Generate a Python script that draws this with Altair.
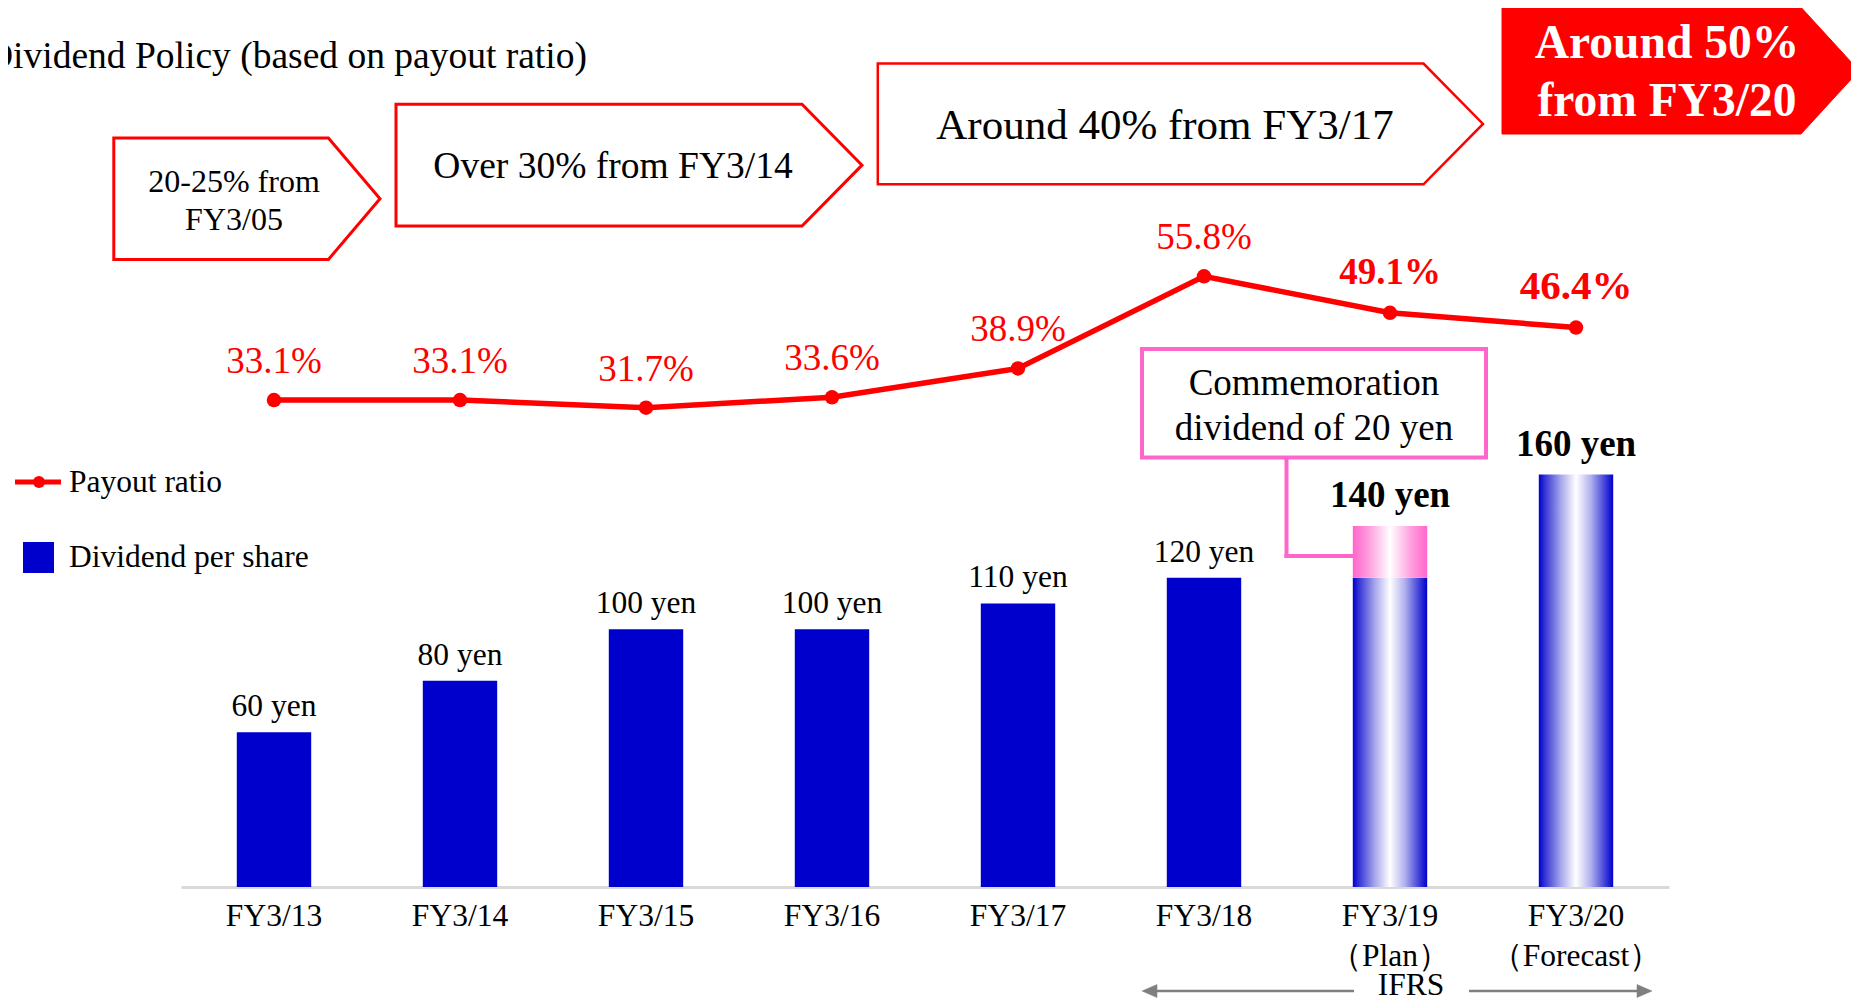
import altair as alt
import pandas as pd

# ---------------- data ----------------
years = ["FY3/13", "FY3/14", "FY3/15", "FY3/16", "FY3/17", "FY3/18",
         "FY3/19 （Plan）", "FY3/20 （Forecast）"]
ordinary_dividend = [60, 80, 100, 100, 110, 120, 120, 160]
commemorative_dividend = [0, 0, 0, 0, 0, 0, 20, 0]
payout_ratio = [33.1, 33.1, 31.7, 33.6, 38.9, 55.8, 49.1, 46.4]
is_projection = [False, False, False, False, False, False, True, True]

policy_title = "Dividend Policy (based on payout ratio)"
policy_step1 = ["20-25% from", "FY3/05"]
policy_step2 = ["Over 30% from FY3/14"]
policy_step3 = ["Around 40% from FY3/17"]
policy_step4 = ["Around 50%", "from FY3/20"]
callout_lines = ["Commemoration", "dividend of 20 yen"]
legend_labels = ["Payout ratio", "Dividend per share"]
ifrs_label = "IFRS"

total_dividend = [o + c for o, c in zip(ordinary_dividend, commemorative_dividend)]
df = pd.DataFrame({
    "idx": list(range(len(years))),
    "year": years,
    "ordinary": ordinary_dividend,
    "comm": commemorative_dividend,
    "total": total_dividend,
    "ratio": payout_ratio,
    "proj": is_projection,
    "dlabel": [f"{t} yen" for t in total_dividend],
    "rlabel": [f"{r:.1f}%" for r in payout_ratio],
})

# ---------------- style ----------------
FONT = "Liberation Serif"
RED = "#FF0000"
BLUE = "#0000CC"
PINK = "#FF66CC"
GRAY = "#7F7F7F"
OX, OY = 181, 8  # page position of plot origin


def ax(v):
    return v - OX


def ay(v):
    return v - OY


base = alt.Chart(df)
ONE = alt.Data(values=[{"k": 0}])

X = alt.X(
    "year:N", sort=years,
    scale=alt.Scale(paddingInner=0.6, paddingOuter=0.3),
    axis=alt.Axis(title=None, labelExpr="split(datum.label, ' ')", labelAngle=0,
                  labelFont=FONT, labelFontSize=31.5, labelColor="black",
                  labelPadding=13.5, labelLineHeight=40, ticks=False, tickSize=0,
                  domain=True, domainColor="#D9D9D9", domainWidth=3, grid=False,
                  labelOverlap=False, labelLimit=0),
)

YB = alt.Scale(domain=[0, 341], nice=False, zero=False)
YR = alt.Scale(domain=[-56.26, 105.03], nice=False, zero=False)

blue_grad = alt.LinearGradient(
    gradient="linear", x1=0, x2=1, y1=0, y2=0,
    stops=[alt.GradientStop(color="#0000CC", offset=0),
           alt.GradientStop(color="#3333D6", offset=0.08),
           alt.GradientStop(color="#A8A8EC", offset=0.3),
           alt.GradientStop(color="#FFFFFF", offset=0.5),
           alt.GradientStop(color="#B0B0EE", offset=0.7),
           alt.GradientStop(color="#3A3AD8", offset=0.9),
           alt.GradientStop(color="#0000CC", offset=1)])
pink_grad = alt.LinearGradient(
    gradient="linear", x1=0, x2=1, y1=0, y2=0,
    stops=[alt.GradientStop(color="#FF66CC", offset=0),
           alt.GradientStop(color="#FF99DD", offset=0.2),
           alt.GradientStop(color="#FFFFFF", offset=0.5),
           alt.GradientStop(color="#FF99DD", offset=0.8),
           alt.GradientStop(color="#FF66CC", offset=1)])

# ---------------- bars ----------------
bars_solid = base.transform_filter("!datum.proj").mark_bar(color=BLUE).encode(
    x=X, y=alt.Y("ordinary:Q", scale=YB, axis=None))
bars_grad = base.transform_filter("datum.proj").mark_bar(fill=blue_grad).encode(
    x=X, y=alt.Y("ordinary:Q", scale=YB, axis=None))
bars_comm = base.transform_filter("datum.comm > 0").mark_bar(fill=pink_grad).encode(
    x=X, y=alt.Y("ordinary:Q", scale=YB, axis=None), y2="total:Q")
yen_norm = base.transform_filter("!datum.proj").mark_text(
    font=FONT, fontSize=31.5, color="black", baseline="middle", dy=-25).encode(
    x=X, y=alt.Y("total:Q", scale=YB, axis=None), text="dlabel:N")
yen_bold = base.transform_filter("datum.proj").mark_text(
    font=FONT, fontSize=37, fontWeight="bold", color="black", baseline="middle", dy=-30).encode(
    x=X, y=alt.Y("total:Q", scale=YB, axis=None), text="dlabel:N")
g_bars = alt.layer(bars_solid, bars_grad, bars_comm, yen_norm, yen_bold)

# ---------------- payout line ----------------
line = base.mark_line(color=RED, strokeWidth=5.5).encode(
    x=X, y=alt.Y("ratio:Q", scale=YR, axis=None))
pts = base.mark_circle(color=RED, size=210, opacity=1).encode(
    x=X, y=alt.Y("ratio:Q", scale=YR, axis=None))
pct_norm = base.transform_filter("!datum.proj").mark_text(
    font=FONT, fontSize=37, color=RED, baseline="middle", dy=-38).encode(
    x=X, y=alt.Y("ratio:Q", scale=YR, axis=None), text="rlabel:N")
pct_b1 = base.transform_filter("datum.idx == 6").mark_text(
    font=FONT, fontSize=37, fontWeight="bold", color=RED, baseline="middle", dy=-40).encode(
    x=X, y=alt.Y("ratio:Q", scale=YR, axis=None), text="rlabel:N")
pct_b2 = base.transform_filter("datum.idx == 7").mark_text(
    font=FONT, fontSize=41, fontWeight="bold", color=RED, baseline="middle", dy=-41).encode(
    x=X, y=alt.Y("ratio:Q", scale=YR, axis=None), text="rlabel:N")
g_line = alt.layer(line, pts, pct_norm, pct_b1, pct_b2)


# ---------------- annotation helpers ----------------
def text_at(s, x, y, size, color="black", weight="normal", align="center"):
    return alt.Chart(ONE).mark_text(
        text=s, font=FONT, fontSize=size, fontWeight=weight, color=color,
        align=align, baseline="middle").encode(x=alt.value(ax(x)), y=alt.value(ay(y)))


def rule(x1, y1, x2, y2, color, width, cap="butt"):
    return alt.Chart(ONE).mark_rule(color=color, strokeWidth=width, strokeCap=cap).encode(
        x=alt.value(ax(x1)), x2=alt.value(ax(x2)), y=alt.value(ay(y1)), y2=alt.value(ay(y2)))


def shape_at(path, x, y, fill, stroke, sw):
    return alt.Chart(ONE).mark_point(
        shape=path, size=4, filled=True, fill=fill, stroke=stroke, strokeWidth=sw,
        opacity=1, strokeJoin="miter").encode(x=alt.value(ax(x)), y=alt.value(ay(y)))


def rect(x1, y1, x2, y2, fill, stroke, sw):
    return alt.Chart(ONE).mark_rect(fill=fill, stroke=stroke, strokeWidth=sw).encode(
        x=alt.value(ax(x1)), x2=alt.value(ax(x2)), y=alt.value(ay(y1)), y2=alt.value(ay(y2)))


def pentagon(left, top, w, tip, h):
    return f"M0,0 L{w},0 L{tip},{h / 2} L{w},{h} L0,{h} Z", left, top


annotations = []
for (path, l, t), fill, sw in [
    (pentagon(113.8, 138, 214.6, 266.2, 121.5), "white", 3),
    (pentagon(396, 104.3, 406, 466, 121.7), "white", 3),
    (pentagon(877.8, 63.5, 545.7, 605.2, 120.8), "white", 2.5),
    (pentagon(1502, 7.3, 299, 357, 126.7), RED, 1),
]:
    annotations.append(shape_at(path, l, t, fill, RED, sw))

annotations += [
    text_at(policy_title, -14, 57, 37.5, align="left"),
    text_at(policy_step1[0], 234, 182, 32),
    text_at(policy_step1[1], 234, 220, 32),
    text_at(policy_step2[0], 613, 166.5, 37.5),
    text_at(policy_step3[0], 1165, 126, 43),
    text_at(policy_step4[0], 1667, 44, 47.5, color="white", weight="bold"),
    text_at(policy_step4[1], 1667, 102, 47.5, color="white", weight="bold"),
]

# commemoration callout
callout = [
    rect(1142, 349, 1486, 457.6, "white", PINK, 4),
    rule(1286.5, 459, 1286.5, 556, PINK, 4, "square"),
    rule(1286.5, 556, 1352, 556, PINK, 4, "square"),
    text_at(callout_lines[0], 1314, 384, 37),
    text_at(callout_lines[1], 1314, 429, 37),
]

# legend
legend = [
    rule(15, 482, 61, 482, RED, 5),
    alt.Chart(ONE).mark_circle(color=RED, size=146, opacity=1).encode(
        x=alt.value(ax(39)), y=alt.value(ay(482))),
    text_at(legend_labels[0], 69, 483, 31.5, align="left"),
    rect(23, 542, 54, 573, BLUE, BLUE, 0),
    text_at(legend_labels[1], 69, 558, 31.5, align="left"),
]

# IFRS range arrow
ifrs = [
    rule(1150, 991, 1354, 991, GRAY, 2.5),
    rule(1469, 991, 1644, 991, GRAY, 2.5),
    shape_at("M0,0 L15,-6.5 L15,6.5 Z", 1142, 991, GRAY, GRAY, 0.5),
    shape_at("M0,0 L-15,-6.5 L-15,6.5 Z", 1652, 991, GRAY, GRAY, 0.5),
    text_at(ifrs_label, 1411, 986, 31.5),
]

chart = alt.layer(
    *annotations, *callout, g_bars, g_line, *legend, *ifrs
).resolve_scale(y="independent").properties(
    width=1488, height=879,
    padding={"left": 173, "top": 0, "right": 182, "bottom": 111},
    autosize=alt.AutoSizeParams(type="none"),
    background="white",
).configure_view(stroke=None)

chart.save("out.html", embed_options={"renderer": "svg", "actions": False})
